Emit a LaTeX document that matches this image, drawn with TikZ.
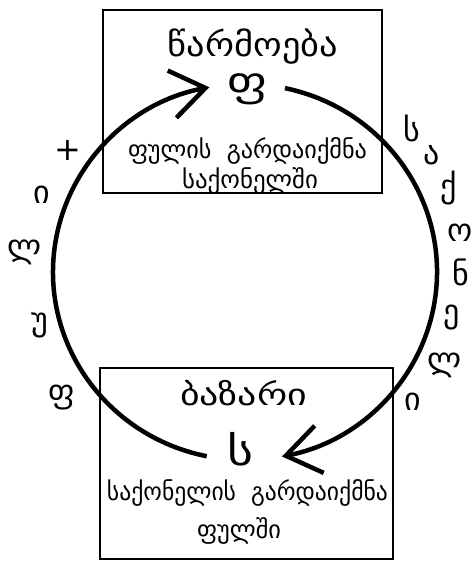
\documentclass[tikz,border=0pt]{standalone}
\usepackage{fontspec}
\usepackage{graphicx}
\setmainfont{DejaVu Sans}
\usetikzlibrary{arrows.meta}
\newcommand{\fitw}[2]{\resizebox{#1}{\height}{#2}}
\begin{document}
\begin{tikzpicture}[x=1pt,y=-1pt,
  box/.style={draw, line width=1.6pt, inner sep=0pt},
  flow/.style={line width=4.5pt, -{Straight Barb[length=34pt,width=48pt]}},
  title/.style={font=\fontsize{33}{35}\selectfont, inner sep=0pt, anchor=base},
  subtitle/.style={font=\fontsize{30}{32}\selectfont, inner sep=0pt, anchor=base},
  big/.style={font=\fontsize{40}{42}\selectfont, inner sep=0pt},
  sub/.style={font=\fontsize{25}{27}\selectfont, inner sep=0pt, anchor=base},
  side/.style={font=\fontsize{32}{34}\selectfont, inner sep=0pt}]
\useasboundingbox (0,0) rectangle (474,562);
% boxes
\node[box, minimum width=279pt, minimum height=183pt] (topbox) at (242.5,101.5) {};
\node[box, minimum width=293pt, minimum height=191pt] (botbox) at (246.5,463.5) {};
% texts in top box
\node[title] (t1) at (253,56) {\fitw{170pt}{წარმოება}};
\node[big] (t2) at (247,89) {\fitw{40pt}{ფ}};
\node[sub] (t3) at (247.5,158) {\fitw{239pt}{ფულის\ \ გარდაიქმნა}};
\node[sub] (t4) at (250,188) {\fitw{136pt}{საქონელში}};
% texts in bottom box
\node[subtitle] (b1) at (243.5,405) {\fitw{127pt}{ბაზარი}};
\node[big] (b2) at (240,449) {\fitw{26pt}{ს}};
\node[sub] (b3) at (247.5,500) {\fitw{281pt}{საქონელის\ \ გარდაიქმნა}};
\node[sub] (b4) at (239,538) {\fitw{84pt}{ფულში}};
% circle
\coordinate (c) at (245,272);
\draw[flow] (c) ++(101.5:192 and 188) arc[start angle=101.5, end angle=259.3, x radius=192, y radius=188];
\draw[flow] (c) ++(-78:192 and 188) arc[start angle=-78, end angle=78.9, x radius=192, y radius=188];
% left letters
\node[side] (l1) at (62,398) {ფ};
\node[side] (l2) at (40,325) {უ};
\node[side] (l3) at (25,252) {ლ};
\node[side] (l4) at (42,195) {ი};
\node[side] (l5) at (68,150) {+};
% right letters
\node[side] (r1) at (412,128) {ს};
\node[side] (r2) at (432,155) {ა};
\node[side] (r3) at (449,188) {ქ};
\node[side] (r4) at (460,233) {ო};
\node[side] (r5) at (461,272) {ნ};
\node[side] (r6) at (452,318) {ე};
\node[side] (r7) at (445,365) {ლ};
\node[side] (r8) at (413,402) {ი};
\end{tikzpicture}
\end{document}
